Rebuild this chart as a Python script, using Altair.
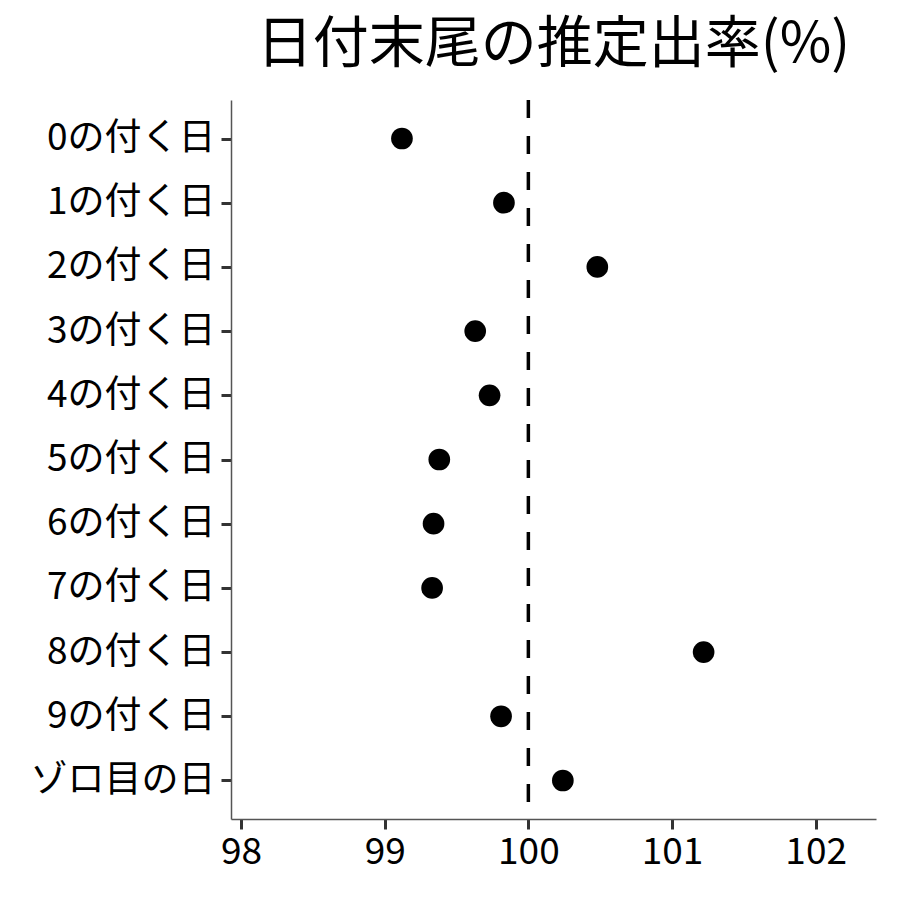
import altair as alt
import pandas as pd

categories = ["0の付く日", "1の付く日", "2の付く日", "3の付く日", "4の付く日",
              "5の付く日", "6の付く日", "7の付く日", "8の付く日", "9の付く日", "ゾロ目の日"]
rates = [99.12, 99.83, 100.48, 99.63, 99.73, 99.38, 99.34, 99.33, 101.22, 99.81, 100.24]
x_ticks = [98, 99, 100, 101, 102]
reference = [100]

df = pd.DataFrame({"cat": categories, "rate": rates})
ref_df = pd.DataFrame({"ref": reference})

FONT = "Noto Sans CJK JP"

xscale = alt.Scale(domain=[97.93, 102.42], nice=False, zero=False)

points = alt.Chart(df).mark_circle(size=470, color="black", opacity=1).encode(
    x=alt.X("rate:Q", scale=xscale,
            axis=alt.Axis(values=x_ticks, format="d", title=None, grid=False, labelFontSize=37,
                          labelFont=FONT, labelColor="black", domainColor="#555555",
                          domainWidth=1.5, tickColor="#333333", tickWidth=3,
                          tickSize=10, labelPadding=5, labelFlush=False)),
    y=alt.Y("cat:N", sort=categories, scale=alt.Scale(padding=0.6),
            axis=alt.Axis(title=None, grid=False, labelFontSize=37, labelFont=FONT,
                          labelColor="black", domainColor="#555555", domainWidth=1.5,
                          tickColor="#333333", tickWidth=3, tickSize=10, labelPadding=6,
                          labelLimit=400)),
)

rule = alt.Chart(ref_df).mark_rule(color="black", strokeWidth=3.5, strokeDash=[18, 18]).encode(
    x=alt.X("ref:Q", scale=xscale)
)

chart = alt.layer(rule, points).properties(
    width=645,
    height=719,
    background="white",
    title=alt.TitleParams("日付末尾の推定出率(%)", font=FONT, fontSize=56,
                          fontWeight="normal", color="black", anchor="middle", offset=24),
    autosize=alt.AutoSizeParams(type="none"),
    padding={"left": 223, "top": 92, "right": 16, "bottom": 70},
).configure_view(stroke="transparent", strokeWidth=0)

chart.save("out.html", embed_options={"renderer": "svg", "actions": False})
